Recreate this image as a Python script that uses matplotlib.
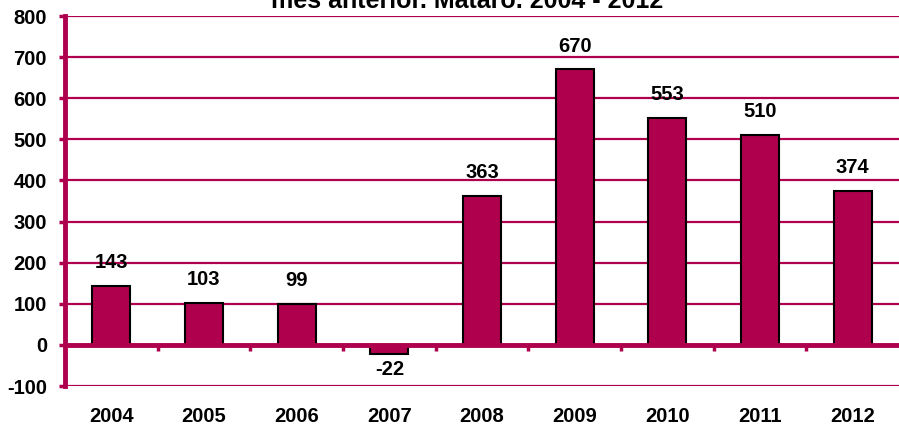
import matplotlib.pyplot as plt

years = ['2004', '2005', '2006', '2007', '2008', '2009', '2010', '2011', '2012']
values = [143, 103, 99, -22, 363, 670, 553, 510, 374]
yticks = [-100, 0, 100, 200, 300, 400, 500, 600, 700, 800]

crimson = '#AE004D'
plt.rcParams['font.family'] = ['Liberation Sans', 'DejaVu Sans']
plt.rcParams['font.weight'] = 'bold'

fig = plt.figure(figsize=(8.99, 4.28), dpi=100)
ax = fig.add_axes([0.0723, 0.0981, 0.9277, 0.8645])

x = list(range(len(years)))
ax.bar(x, values, width=0.41, color=crimson, edgecolor='black', linewidth=1.5, zorder=3)

for xi, v in zip(x, values):
    if v >= 0:
        ax.annotate(str(v), (xi, v), xytext=(0, 10), textcoords='offset points',
                    ha='center', va='bottom', fontsize=14.5, fontweight='bold')
    else:
        ax.annotate(str(v), (xi, v), xytext=(0, -4), textcoords='offset points',
                    ha='center', va='top', fontsize=14.5, fontweight='bold')

ax.set_xlim(-0.5, len(years) - 0.5)
ax.set_ylim(-100, 800)
ax.set_yticks(yticks)
ax.set_yticklabels([str(t) for t in yticks], fontsize=14.5, fontweight='bold')
ax.set_xticks(x)
ax.set_xticklabels(years, fontsize=14.5, fontweight='bold')
ax.tick_params(axis='x', length=0, pad=15)
ax.tick_params(axis='y', length=4, width=2.5, color=crimson, pad=9)

ax.grid(axis='y', color=crimson, linewidth=1.6, zorder=1)
ax.axhline(0, color=crimson, linewidth=3.5, zorder=4)

for s in ['top', 'right', 'bottom']:
    ax.spines[s].set_visible(False)
ax.spines['left'].set_color(crimson)
ax.spines['left'].set_linewidth(3.5)

# boundary ticks hanging from the zero line
sec = ax.secondary_xaxis(100 / 900)
sec.set_xticks([i + 0.5 for i in x[:-1]])
sec.set_xticklabels([])
sec.tick_params(length=4, width=2.5, color=crimson)
sec.spines['bottom'].set_visible(False)

fig.text(0.52, 1 - 8 / 428, 'mes anterior. Mataró. 2004 - 2012', ha='center', va='baseline',
         fontsize=18, fontweight='bold')

fig.savefig('out.png', dpi=100)
